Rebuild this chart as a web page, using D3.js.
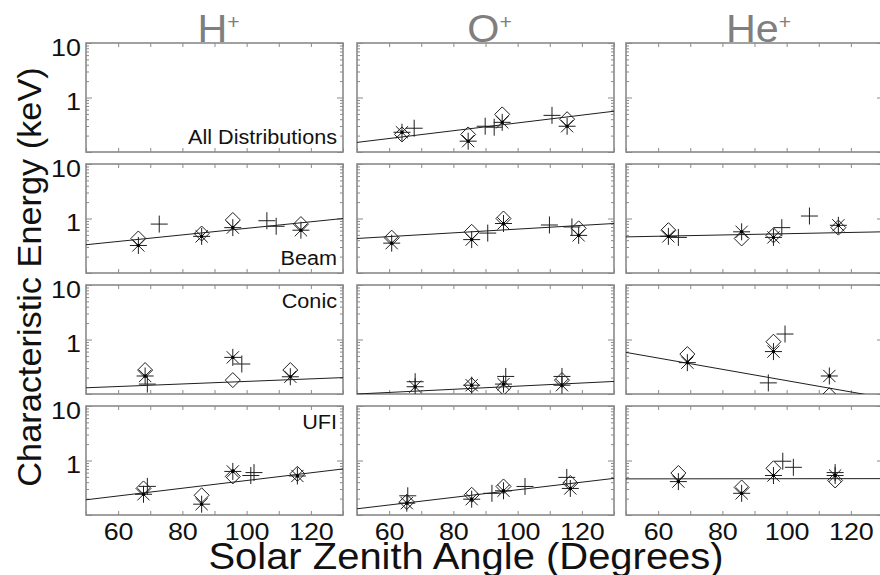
<!DOCTYPE html>
<html>
<head>
<meta charset="utf-8">
<script src="https://cdn.jsdelivr.net/npm/d3@7"></script>
<style>
  body { margin: 0; background: #fff; }
  text { font-family: "Liberation Sans", Arial, Helvetica, sans-serif; }
</style>
</head>
<body>
<div id="chart"></div>
<script>
// categories
var species = ["H", "O", "He"];
var distributions = ["All Distributions", "Beam", "Conic", "UFI"];
var xTicks = [60, 80, 100, 120];
var yTickLabels = [1, 10];
var fitX = [50, 130];

// fit lines: [distribution, keV at 50 deg, keV at 130 deg]
var fitH = [["Beam", 0.33, 1.0], ["Conic", 0.13, 0.20], ["UFI", 0.19, 0.70]];
var fitO = [["All Distributions", 0.15, 0.56], ["Beam", 0.43, 0.81], ["Conic", 0.10, 0.17], ["UFI", 0.13, 0.47]];
var fitHe = [["Beam", 0.46, 0.57], ["Conic", 0.58, 0.086], ["UFI", 0.46, 0.465]];

// points: [distribution, solar zenith angle, characteristic energy keV]
var diamondsH = [
  ["Beam", 66.3, 0.43], ["Beam", 86, 0.53], ["Beam", 95.7, 0.94], ["Beam", 116.9, 0.79],
  ["Conic", 68.4, 0.275], ["Conic", 95.7, 0.18], ["Conic", 113.6, 0.275],
  ["UFI", 67.9, 0.307], ["UFI", 86, 0.23], ["UFI", 95.7, 0.51], ["UFI", 115.8, 0.57]
];
var asterisksH = [
  ["Beam", 66.3, 0.32], ["Beam", 86, 0.47], ["Beam", 95.7, 0.68], ["Beam", 116.9, 0.61],
  ["Conic", 68.4, 0.214], ["Conic", 95.7, 0.47], ["Conic", 113.6, 0.207],
  ["UFI", 67.9, 0.24], ["UFI", 86, 0.158], ["UFI", 95.7, 0.63], ["UFI", 115.8, 0.52]
];
var plusesH = [
  ["Beam", 72.8, 0.79], ["Beam", 106.3, 0.91], ["Beam", 109.2, 0.72],
  ["Conic", 69.1, 0.152], ["Conic", 98.5, 0.355],
  ["UFI", 69.1, 0.335], ["UFI", 101.3, 0.53], ["UFI", 102.3, 0.6]
];

var diamondsO = [
  ["All Distributions", 64, 0.21], ["All Distributions", 84.6, 0.21], ["All Distributions", 95.2, 0.49], ["All Distributions", 115.4, 0.40],
  ["Beam", 60.8, 0.445], ["Beam", 85.7, 0.57], ["Beam", 95.6, 1.0], ["Beam", 119, 0.66],
  ["Conic", 85.7, 0.145], ["Conic", 95.6, 0.13], ["Conic", 113.8, 0.18],
  ["UFI", 65.5, 0.174], ["UFI", 85.7, 0.235], ["UFI", 95.6, 0.334], ["UFI", 116.4, 0.386]
];
var asterisksO = [
  ["All Distributions", 64, 0.23], ["All Distributions", 84.6, 0.158], ["All Distributions", 95.2, 0.35], ["All Distributions", 115.4, 0.297],
  ["Beam", 60.8, 0.353], ["Beam", 85.7, 0.41], ["Beam", 95.6, 0.81], ["Beam", 119, 0.49],
  ["Conic", 68.1, 0.136], ["Conic", 85.7, 0.145], ["Conic", 95.6, 0.152], ["Conic", 113.8, 0.145],
  ["UFI", 65.5, 0.165], ["UFI", 85.7, 0.195], ["UFI", 95.6, 0.278], ["UFI", 116.4, 0.307]
];
var plusesO = [
  ["All Distributions", 67.8, 0.273], ["All Distributions", 89.9, 0.297], ["All Distributions", 92.7, 0.285], ["All Distributions", 110.7, 0.47],
  ["Beam", 90.7, 0.54], ["Beam", 109.9, 0.76], ["Beam", 116.9, 0.70],
  ["Conic", 68.1, 0.168], ["Conic", 96.3, 0.21], ["Conic", 113.8, 0.21],
  ["UFI", 65.8, 0.225], ["UFI", 92, 0.25], ["UFI", 102.3, 0.334], ["UFI", 115.3, 0.49]
];

var diamondsHe = [
  ["Beam", 63.2, 0.61], ["Beam", 86, 0.43], ["Beam", 95.9, 0.49], ["Beam", 116.1, 0.68],
  ["Conic", 69.1, 0.54], ["Conic", 95.9, 0.91], ["Conic", 113.3, 0.095],
  ["UFI", 66.3, 0.59], ["UFI", 86, 0.32], ["UFI", 95.9, 0.72], ["UFI", 115.1, 0.43]
];
var asterisksHe = [
  ["Beam", 63.2, 0.47], ["Beam", 86, 0.57], ["Beam", 95.9, 0.45], ["Beam", 116.1, 0.75],
  ["Conic", 69.1, 0.376], ["Conic", 95.9, 0.6], ["Conic", 113.3, 0.214],
  ["UFI", 66.3, 0.41], ["UFI", 86, 0.25], ["UFI", 95.9, 0.53], ["UFI", 115.1, 0.53]
];
var plusesHe = [
  ["Beam", 66.3, 0.45], ["Beam", 98.5, 0.68], ["Beam", 107.1, 1.11],
  ["Conic", 94.3, 0.16], ["Conic", 99.5, 1.26],
  ["UFI", 98.8, 0.97], ["UFI", 102.1, 0.75], ["UFI", 115.1, 0.6]
];

var fits = [fitH, fitO, fitHe];
var diamonds = [diamondsH, diamondsO, diamondsHe];
var asterisks = [asterisksH, asterisksO, asterisksHe];
var pluses = [plusesH, plusesO, plusesHe];

// layout
var width = 880, height = 575;
var colLeft = [86, 357, 626], panelW = 257;
var rowTop = [43, 164, 285, 406], panelH = 109;
var frameColor = "#8a8a8a";
var inkColor = "#1e1e1e";
var stretch = 1.12; //text in the original is a bit wide

var svg = d3.select("#chart").append("svg")
    .attr("width", width)
    .attr("height", height);

//marker shapes
function diamondPath(s) { return "M0," + (-s) + "L" + s + ",0L0," + s + "L" + (-s) + ",0Z"; }
function plusPath(s) { return "M" + (-s) + ",0H" + s + "M0," + (-s) + "V" + s; }
function asteriskPath(s) {
  var d = s * 0.72;
  return plusPath(s) + "M" + (-d) + "," + (-d) + "L" + d + "," + d + "M" + (-d) + "," + d + "L" + d + "," + (-d);
}

var minorX = d3.range(50, 131, 10);
var minorY = [];
[0.1, 1].forEach(function(b) { for (var k = 2; k <= 9; k++) minorY.push(b * k); });
var majorY = [0.1, 1, 10];

species.forEach(function(sp, c) {
  distributions.forEach(function(dist, r) {
    var x = d3.scaleLinear().domain([50, 130]).range([colLeft[c], colLeft[c] + panelW]);
    var y = d3.scaleLog().domain([0.1, 10]).range([rowTop[r] + panelH, rowTop[r]]);

    var g = svg.append("g");
    var clipId = "clip-" + c + "-" + r;
    g.append("clipPath").attr("id", clipId)
      .append("rect")
        .attr("x", x(50)).attr("y", y(10))
        .attr("width", panelW).attr("height", panelH);

    //ticks, all pointing inward
    function tickAxis(axis, tx, ty, vals, len) {
      var a = g.append("g")
          .attr("transform", "translate(" + tx + "," + ty + ")")
          .call(axis.tickValues(vals).tickSizeInner(-len).tickSizeOuter(0).tickFormat(""));
      a.select(".domain").remove();
      a.selectAll("line").attr("stroke", frameColor).attr("stroke-width", 1);
    }
    tickAxis(d3.axisBottom(x), 0, y(0.1), minorX, 4);
    tickAxis(d3.axisTop(x), 0, y(10), minorX, 4);
    tickAxis(d3.axisLeft(y), x(50), 0, majorY, 6);
    tickAxis(d3.axisLeft(y), x(50), 0, minorY, 3);
    tickAxis(d3.axisRight(y), x(130), 0, majorY, 6);
    tickAxis(d3.axisRight(y), x(130), 0, minorY, 3);

    //frame
    g.append("rect")
      .attr("x", x(50)).attr("y", y(10))
      .attr("width", panelW).attr("height", panelH)
      .attr("fill", "none")
      .attr("stroke", frameColor)
      .attr("stroke-width", 1.6);

    var inner = g.append("g").attr("clip-path", "url(#" + clipId + ")");

    //fit line
    var fit = fits[c].filter(function(d) { return d[0] === dist; });
    fit.forEach(function(f) {
      var line = d3.line().x(function(d) { return x(d[0]); }).y(function(d) { return y(d[1]); });
      inner.append("path")
        .attr("d", line([[fitX[0], f[1]], [fitX[1], f[2]]]))
        .attr("fill", "none")
        .attr("stroke", inkColor)
        .attr("stroke-width", 1);
    });

    function mark(data, pathFn) {
      inner.selectAll(null)
          .data(data.filter(function(d) { return d[0] === dist; }))
        .enter().append("path")
          .attr("transform", function(d) { return "translate(" + x(d[1]) + "," + y(d[2]) + ")"; })
          .attr("d", pathFn)
          .attr("fill", "none")
          .attr("stroke", inkColor)
          .attr("stroke-width", 1);
    }
    mark(diamonds[c], diamondPath(7.5));
    mark(asterisks[c], asteriskPath(8.5));
    mark(pluses[c], plusPath(8.5));

    //dot at asterisk centre
    inner.selectAll(null)
        .data(asterisks[c].filter(function(d) { return d[0] === dist; }))
      .enter().append("rect")
        .attr("x", function(d) { return x(d[1]) - 1.5; })
        .attr("y", function(d) { return y(d[2]) - 1.5; })
        .attr("width", 3).attr("height", 3)
        .attr("fill", "#000");

    //distribution label
    if (c === 0) {
      var bottom = (dist === "All Distributions" || dist === "Beam");
      g.append("text")
        .attr("transform", "translate(" + (x(130) - 6) + "," + (bottom ? y(0.1) - 8 : y(10) + 23) + ") scale(1.03,1)")
        .attr("text-anchor", "end")
        .attr("font-size", 21)
        .attr("fill", "#111")
        .text(dist);

      var ay = g.append("g")
          .attr("transform", "translate(" + (x(50) - 5) + ",0)")
          .call(d3.axisLeft(y).tickValues(yTickLabels).tickSize(0).tickPadding(0).tickFormat(d3.format("d")));
      ay.select(".domain").remove();
      ay.selectAll("text")
        .attr("font-size", 24)
        .attr("font-family", "Liberation Sans, Arial, sans-serif")
        .attr("fill", "#111")
        .attr("transform", "scale(" + stretch + ",1)")
        .attr("dy", "0.52em");
    }

    if (r === distributions.length - 1) {
      var ax = g.append("g")
          .attr("transform", "translate(0," + y(0.1) + ")")
          .call(d3.axisBottom(x).tickValues(xTicks).tickSize(0).tickPadding(8).tickFormat(d3.format("d")));
      ax.select(".domain").remove();
      ax.selectAll("text")
        .attr("font-size", 24)
        .attr("font-family", "Liberation Sans, Arial, sans-serif")
        .attr("transform", "scale(" + stretch + ",1)")
        .attr("fill", "#111");
    }

    if (r === 0) {
      var t = svg.append("text")
        .attr("transform", "translate(" + ((x(50) + x(130)) / 2 + 4) + ",42) scale(1.06,1)")
        .attr("text-anchor", "middle")
        .attr("font-size", 39)
        .attr("fill", "#7f7f7f");
      t.append("tspan").text(sp);
      t.append("tspan").attr("font-size", 20).attr("dy", -13).text("+");
    }
  });
});

//axis titles
svg.append("text")
  .attr("transform", "translate(41,277) rotate(-90) scale(1.04,1)")
  .attr("text-anchor", "middle")
  .attr("font-size", 33)
  .attr("fill", "#111")
  .text("Characteristic Energy (keV)");

svg.append("text")
  .attr("transform", "translate(466,569) scale(1.08,1)")
  .attr("text-anchor", "middle")
  .attr("font-size", 37)
  .attr("fill", "#111")
  .text("Solar Zenith Angle (Degrees)");
</script>
</body>
</html>
